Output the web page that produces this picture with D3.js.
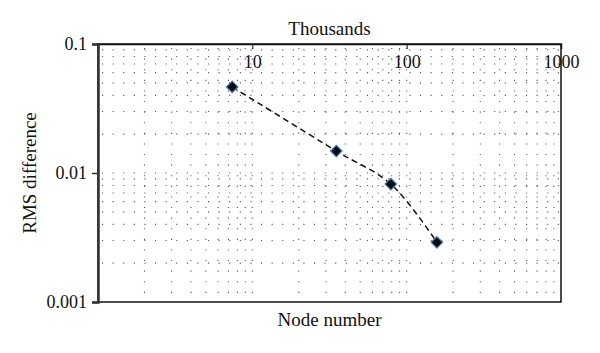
<!DOCTYPE html>
<html>
<head>
<meta charset="utf-8">
<script src="https://cdn.jsdelivr.net/npm/d3@7/dist/d3.min.js"></script>
<style>
  body { margin: 0; background: #fff; }
  svg { display: block; }
  svg text { font-family: "Liberation Serif", "DejaVu Serif", serif; fill: #111; }
  .tick text { font-size: 18px; }
</style>
</head>
<body>
<svg id="chart" width="600" height="353"></svg>
<script>
// node number (thousands) vs RMS difference
const nodes = [7.4, 35, 79, 157];
const rms = [0.0465, 0.0148, 0.0082, 0.0029];
const xTicks = [10, 100, 1000];
const yTicks = [0.1, 0.01, 0.001];

const width = 600, height = 353;
const margin = { top: 44, right: 39, bottom: 51, left: 98 };

const svg = d3.select("#chart");

const x = d3.scaleLog().domain([1, 1000]).range([margin.left, width - margin.right]);
const y = d3.scaleLog().domain([0.001, 0.1]).range([height - margin.bottom, margin.top]);

// minor dotted grid
const xMinor = [];
const yMinor = [];
for (let d = 1; d < 1000; d *= 10) for (let k = 2; k <= 9; k++) xMinor.push(d * k);
for (let d = 0.001; d < 0.1; d *= 10) for (let k = 2; k <= 9; k++) yMinor.push(d * k);

const grid = svg.append("g").attr("stroke", "#555").attr("stroke-width", 1.1)
  .attr("stroke-dasharray", "1.1,9.5");

grid.selectAll("line.v")
  .data(xMinor.concat([10, 100]))
  .join("line")
  .attr("x1", d => x(d)).attr("x2", d => x(d))
  .attr("y1", y(0.1) + 4).attr("y2", y(0.001));

grid.selectAll("line.h")
  .data(yMinor.concat([0.01]))
  .join("line")
  .attr("x1", x(1) + 4).attr("x2", x(1000))
  .attr("y1", d => y(d)).attr("y2", d => y(d));

// frame
svg.append("rect")
  .attr("x", x(1)).attr("y", y(0.1))
  .attr("width", x(1000) - x(1)).attr("height", y(0.001) - y(0.1))
  .attr("fill", "none").attr("stroke", "#111").attr("stroke-width", 1.5);

// top axis (x)
const xAxis = svg.append("g")
  .attr("transform", `translate(0,${y(0.1)})`)
  .call(d3.axisBottom(x).tickValues(xTicks).tickSize(5).tickPadding(6)
    .tickFormat(d3.format("d")));
xAxis.select(".domain").attr("stroke", "#111").attr("stroke-width", 1.5);
xAxis.selectAll(".tick line").attr("stroke", "#111");

// left axis (y)
const yAxis = svg.append("g")
  .attr("transform", `translate(${x(1)},0)`)
  .call(d3.axisLeft(y).tickValues(yTicks).tickSize(6).tickPadding(5)
    .tickFormat(d => String(d)));
yAxis.select(".domain").attr("stroke", "#333").attr("stroke-width", 2.5);
yAxis.selectAll(".tick line").attr("stroke", "#333").attr("stroke-width", 1.5);

// series
const pts = nodes.map((n, i) => [n, rms[i]]);
svg.append("path")
  .datum(pts)
  .attr("fill", "none").attr("stroke", "#111").attr("stroke-width", 1.5)
  .attr("stroke-dasharray", "6,4")
  .attr("d", d3.line().x(d => x(d[0])).y(d => y(d[1])).curve(d3.curveCatmullRom));

svg.selectAll("path.mk")
  .data(pts)
  .join("path")
  .attr("class", "mk")
  .attr("transform", d => `translate(${x(d[0])},${y(d[1])})`)
  .attr("d", d3.symbol(d3.symbolDiamond2, 85))
  .attr("fill", "#0b0b14").attr("stroke", "#4a7fb0").attr("stroke-width", 1.2);

// titles
svg.append("text")
  .attr("x", (x(1) + x(1000)) / 2).attr("y", 35)
  .attr("text-anchor", "middle").style("font-size", "19px")
  .text("Thousands");

svg.append("text")
  .attr("x", (x(1) + x(1000)) / 2).attr("y", 326)
  .attr("text-anchor", "middle").style("font-size", "19px")
  .text("Node number");

svg.append("text")
  .attr("transform", `translate(36,${(y(0.1) + y(0.001)) / 2}) rotate(-90)`)
  .attr("text-anchor", "middle").style("font-size", "19px")
  .text("RMS difference");
</script>
</body>
</html>
